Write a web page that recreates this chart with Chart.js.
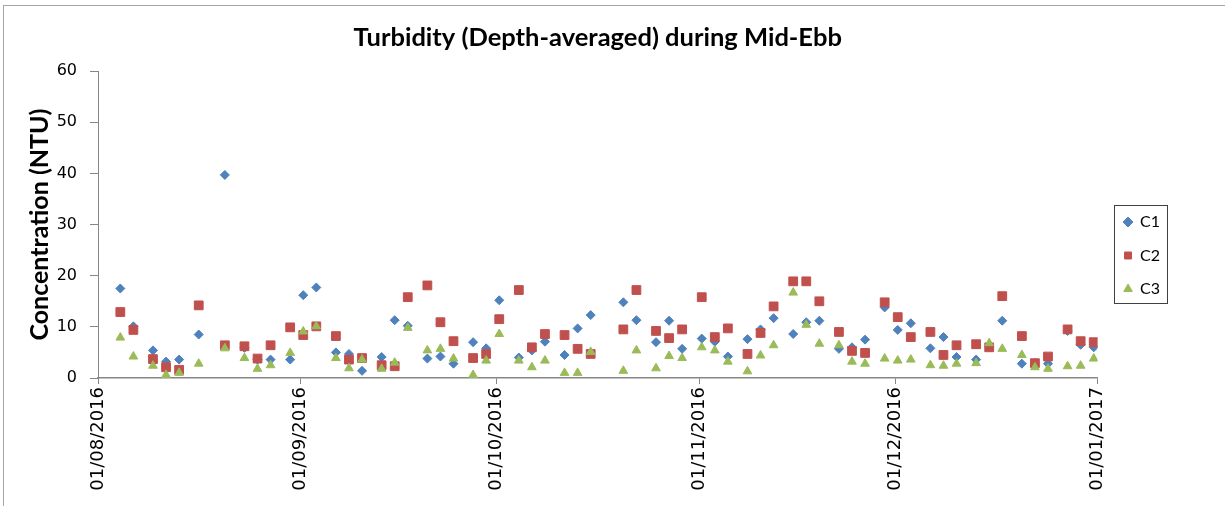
<!DOCTYPE html>
<html>
<head>
<meta charset="utf-8">
<script src="https://cdn.jsdelivr.net/npm/chart.js@4.4.1/dist/chart.umd.min.js"></script>
<style>
  html, body { margin: 0; padding: 0; background: #fff; }
  #wrap { width: 1225px; height: 506px; }
</style>
</head>
<body>
<div id="wrap"><canvas id="chart" width="1225" height="506"></canvas></div>
<script>
// Sampling dates (dd/mm/yyyy) and measured turbidity per station
const sampleDates = [
  '04/08/2016', '06/08/2016', '09/08/2016', '11/08/2016', '13/08/2016', '16/08/2016',
  '20/08/2016', '23/08/2016', '25/08/2016', '27/08/2016', '30/08/2016',
  '01/09/2016', '03/09/2016', '06/09/2016', '08/09/2016', '10/09/2016', '13/09/2016',
  '15/09/2016', '17/09/2016', '20/09/2016', '22/09/2016', '24/09/2016', '27/09/2016', '29/09/2016',
  '01/10/2016', '04/10/2016', '06/10/2016', '08/10/2016', '11/10/2016', '13/10/2016',
  '15/10/2016', '20/10/2016', '22/10/2016', '25/10/2016', '27/10/2016', '29/10/2016',
  '01/11/2016', '03/11/2016', '05/11/2016', '08/11/2016', '10/11/2016', '12/11/2016',
  '15/11/2016', '17/11/2016', '19/11/2016', '22/11/2016', '24/11/2016', '26/11/2016', '29/11/2016',
  '01/12/2016', '03/12/2016', '06/12/2016', '08/12/2016', '10/12/2016', '13/12/2016',
  '15/12/2016', '17/12/2016', '20/12/2016', '22/12/2016', '24/12/2016', '27/12/2016',
  '29/12/2016', '31/12/2016'
];
const sampleHour = 10; // mid-ebb sampling time of day

const c1Values = [
  17.5, 10.1, 5.4, 3.2, 3.6, 8.5, 39.7, 5.9, 3.6, 3.6, 3.6,
  16.2, 17.7, 5.0, 4.7, 1.4, 4.1, 11.3, 10.2, 3.8, 4.2, 2.8, 7.0, 5.8,
  15.2, 4.0, 5.4, 7.1, 4.5, 9.7, 12.3, 14.8, 11.3, 7.0, 11.2, 5.7,
  7.7, 7.1, 4.2, 7.6, 9.5, 11.7, 8.6, 10.9, 11.2, 5.7, 6.0, 7.5, 13.8,
  9.4, 10.7, 5.8, 8.0, 4.1, 3.6, 6.2, 11.2, 2.8, 2.9, 2.8, 9.2, 6.5, 6.0
];
const c2Values = [
  12.9, 9.4, 3.7, 2.1, 1.6, 14.2, 6.4, 6.2, 3.8, 6.4, 9.9,
  8.4, 10.1, 8.2, 3.6, 3.9, 2.5, 2.3, 15.8, 18.1, 10.9, 7.2, 3.9, 4.7,
  11.5, 17.2, 6.0, 8.6, 8.4, 5.7, 4.7, 9.5, 17.2, 9.2, 7.8, 9.5,
  15.8, 8.0, 9.7, 4.7, 8.8, 14.0, 18.9, 18.9, 15.0, 9.0, 5.3, 4.9, 14.8,
  11.9, 8.0, 9.0, 4.5, 6.4, 6.6, 6.0, 16.0, 8.2, 2.9, 4.2, 9.5, 7.2, 7.0
];
const c3Values = [
  7.9, 4.2, 2.4, 0.6, 1.0, 2.8, 5.8, 3.9, 1.8, 2.5, 4.9,
  9.1, 10.1, 3.9, 1.9, 3.6, 1.8, 3.0, 9.8, 5.4, 5.7, 3.8, 0.6, 3.4,
  8.6, 3.4, 2.1, 3.4, 1.0, 1.0, 5.1, 1.4, 5.4, 1.9, 4.3, 3.9,
  6.0, 5.4, 3.2, 1.3, 4.4, 6.4, 16.7, 10.4, 6.7, 6.4, 3.2, 2.8, 3.8,
  3.4, 3.6, 2.5, 2.4, 2.8, 2.9, 6.8, 5.7, 4.5, 2.1, 1.8, 2.3, 2.4, 3.8
];

// Axis range and month tick labels
const xStart = '01/08/2016';
const xEnd = '01/01/2017';
const monthTicks = ['01/08/2016', '01/09/2016', '01/10/2016', '01/11/2016', '01/12/2016', '01/01/2017'];
const yMax = 60;
const yStep = 10;

function toTime(s, hour) {
  const [d, m, y] = s.split('/').map(Number);
  return Date.UTC(y, m - 1, d, hour || 0);
}
function fmtDate(v) {
  const dt = new Date(v);
  const dd = String(dt.getUTCDate()).padStart(2, '0');
  const mm = String(dt.getUTCMonth() + 1).padStart(2, '0');
  return dd + '/' + mm + '/' + dt.getUTCFullYear();
}
const pts = (vals) => vals.map((v, i) => ({ x: toTime(sampleDates[i], sampleHour), y: v }));

Chart.defaults.font.family = 'Lato';
Chart.defaults.color = '#000';

// frame round the whole chart + legend border
const framePlugin = {
  id: 'frame',
  beforeDraw(chart) {
    const ctx = chart.ctx;
    ctx.save();
    ctx.fillStyle = '#fff';
    ctx.fillRect(0, 0, chart.width, chart.height);
    ctx.strokeStyle = '#a6a6a6';
    ctx.lineWidth = 1;
    ctx.strokeRect(3.5, 5.5, chart.width + 10, chart.height + 10);
    ctx.restore();
  },
  afterDraw(chart) {
    const hb = chart.legend.legendHitBoxes;
    if (!hb || !hb.length) return;
    const first = hb[0], last = hb[hb.length - 1];
    const ctx = chart.ctx;
    ctx.save();
    ctx.strokeStyle = '#404040';
    ctx.lineWidth = 1;
    const l = Math.round(first.left - 10) + 0.5;
    const t = Math.round(first.top - 9) + 0.5;
    const r = Math.round(first.left + 43) + 0.5;
    const b = Math.round(last.top + last.height + 6) + 0.5;
    ctx.strokeRect(l, t, r - l, b - t);
    ctx.restore();
  }
};

new Chart(document.getElementById('chart'), {
  type: 'scatter',
  data: {
    datasets: [
      { label: 'C1', data: pts(c1Values), pointStyle: 'rectRot', pointRadius: 4.5,
        backgroundColor: '#4f81bd', borderColor: '#4f81bd', borderWidth: 1, order: 3 },
      { label: 'C2', data: pts(c2Values), pointStyle: 'rect', pointRadius: 6.2,
        backgroundColor: '#c0504d', borderColor: '#c0504d', borderWidth: 1, order: 2 },
      { label: 'C3', data: pts(c3Values), pointStyle: 'triangle', pointRadius: 5,
        backgroundColor: '#9bbb59', borderColor: '#9bbb59', borderWidth: 1, order: 1 }
    ]
  },
  options: {
    responsive: false,
    animation: false,
    events: [],
    layout: { padding: { top: 5, right: 55, bottom: 0, left: 0 } },
    plugins: {
      tooltip: { enabled: false },
      title: {
        display: true,
        text: 'Turbidity (Depth-averaged) during Mid-Ebb',
        fullSize: false,
        font: { size: 25.5, weight: 'bold', family: 'Lato' },
        padding: { top: 17, bottom: 18.5 }
      },
      legend: {
        position: 'right',
        labels: {
          usePointStyle: true,
          boxWidth: 8,
          boxHeight: 7,
          padding: 17.5,
          font: { size: 16, family: 'Lato' },
          sort: (a, b) => a.datasetIndex - b.datasetIndex
        }
      }
    },
    scales: {
      x: {
        type: 'linear',
        min: toTime(xStart),
        max: toTime(xEnd),
        afterBuildTicks(scale) {
          scale.ticks = monthTicks.map(s => ({ value: toTime(s) }));
        },
        afterFit(scale) { scale.height = 128; },
        grid: { display: true, drawOnChartArea: false, tickLength: 6, color: '#868686' },
        border: { display: true, color: '#868686', width: 1.5 },
        ticks: {
          autoSkip: false,
          maxRotation: 90,
          minRotation: 90,
          padding: 3,
          font: { size: 18, family: 'DejaVu Sans' },
          callback: (v) => fmtDate(v)
        }
      },
      y: {
        min: 0,
        max: yMax,
        afterFit(scale) { scale.width = 98; },
        grid: { display: true, drawOnChartArea: false, tickLength: 8, color: '#868686' },
        border: { display: true, color: '#868686', width: 1 },
        ticks: { stepSize: yStep, padding: 13, font: { size: 16, family: 'DejaVu Sans' } },
        title: {
          display: true,
          text: 'Concentration (NTU)',
          font: { size: 25, weight: 'bold', family: 'Lato' },
          padding: { top: 25, bottom: 0 }
        }
      },
      gap: {
        type: 'linear',
        position: 'right',
        display: true,
        grid: { display: false },
        border: { display: false },
        ticks: { display: false },
        afterFit(scale) { scale.width = 9; }
      }
    }
  },
  plugins: [framePlugin]
});
</script>
</body>
</html>
